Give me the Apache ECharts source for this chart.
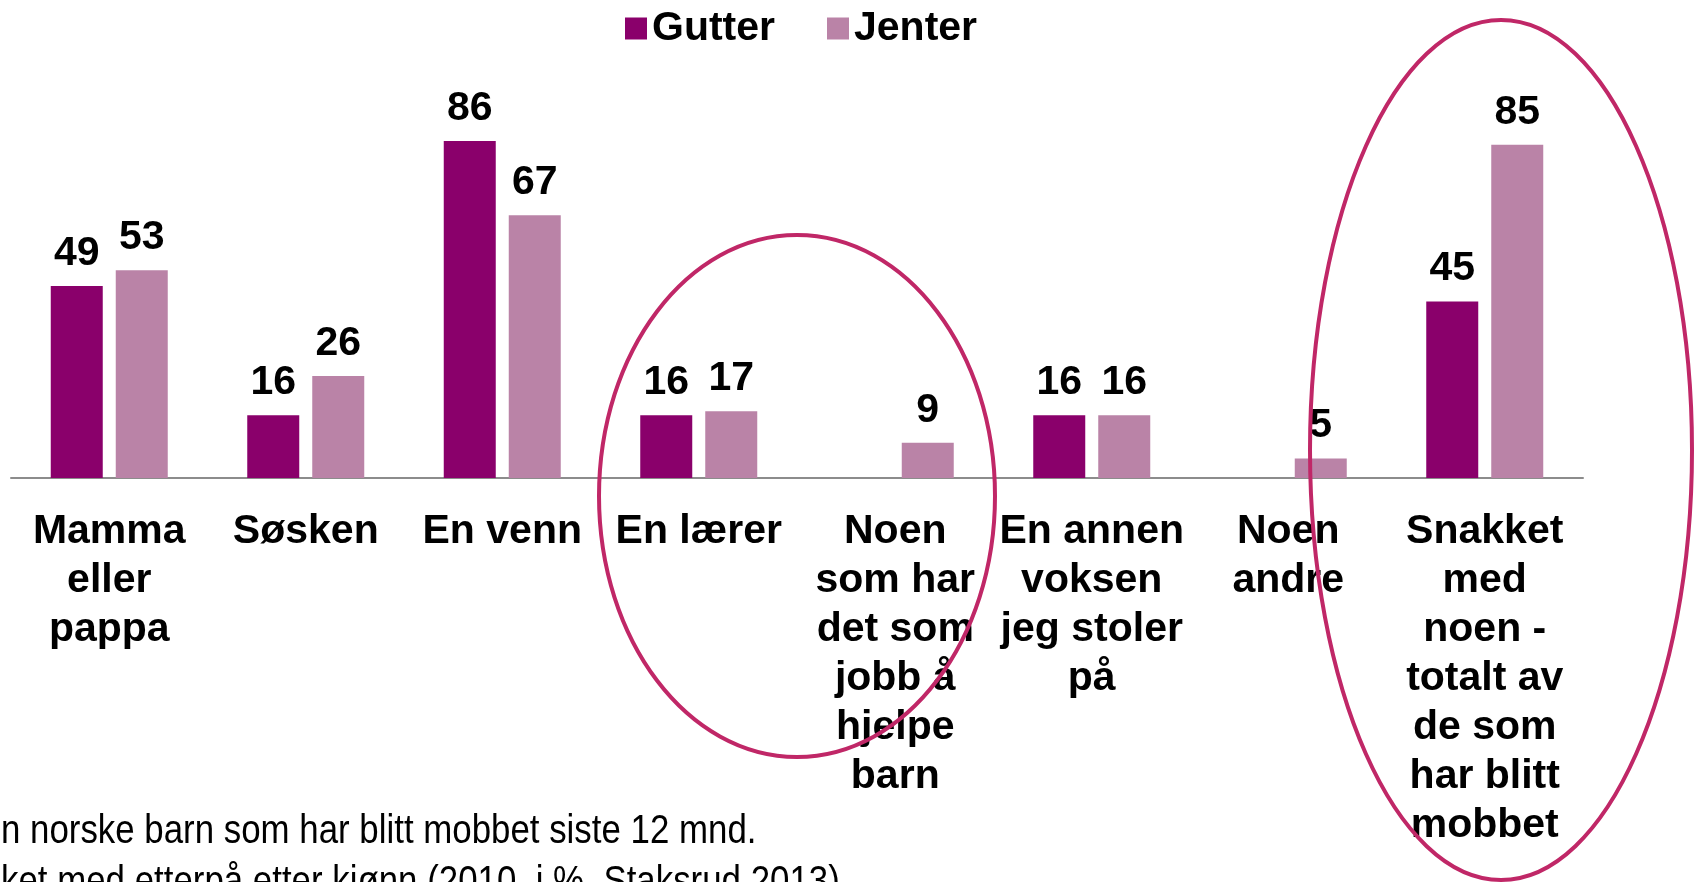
<!DOCTYPE html>
<html>
<head>
<meta charset="utf-8">
<script src="https://cdn.jsdelivr.net/npm/echarts@6/dist/echarts.min.js"></script>
<style>
  html, body { margin: 0; padding: 0; background: #fff; }
  #chart { width: 1694px; height: 882px; }
</style>
</head>
<body>
<div id="chart"></div>
<script>
const categories = [
  'Mamma\neller\npappa',
  'Søsken',
  'En venn',
  'En lærer',
  'Noen\nsom har\ndet som\njobb å\nhjelpe\nbarn',
  'En annen\nvoksen\njeg stoler\npå',
  'Noen\nandre',
  'Snakket\nmed\nnoen -\ntotalt av\nde som\nhar blitt\nmobbet'
]
const gutter = [49, 16, 86, 16, null, 16, null, 45]
const jenter = [53, 26, 67, 17, 9, 16, 5, 85]
const footnotes = [
  'n norske barn som har blitt mobbet siste 12 mnd.',
  'ket med etterpå etter kjønn (2010, i %, Staksrud 2013)'
]

const FONT = '"Liberation Sans", Arial, sans-serif'
const ringColor = '#C02767'

const chart = echarts.init(document.getElementById('chart'))

function barSeries(name, data, color) {
  return {
    name: name,
    type: 'bar',
    data: data,
    barWidth: 52,
    barGap: '25%',
    itemStyle: { color: color },
    label: {
      show: true,
      position: 'top',
      distance: 12,
      color: '#000',
      fontFamily: FONT,
      fontWeight: 'bold',
      fontSize: 41
    }
  }
}

// footnote lines, squeezed like the condensed font in the original
function footnote(text, y) {
  return {
    type: 'text', z: 100, x: 1, y: y, scaleX: 0.85,
    style: {
      text: text,
      fill: '#000',
      font: '41px "Liberation Sans", Arial, sans-serif',
      verticalAlign: 'top'
    }
  }
}

const option = {
  animation: false,
  textStyle: { fontFamily: FONT },
  legend: {
    top: 3,
    left: 620,
    itemWidth: 22,
    itemHeight: 22,
    itemGap: 52,
    icon: 'rect',
    textStyle: { fontFamily: FONT, fontWeight: 'bold', fontSize: 41, color: '#000' },
    data: ['Gutter', 'Jenter']
  },
  grid: { left: 11, right: 111, top: 86, bottom: 404, containLabel: false },
  xAxis: {
    type: 'category',
    data: categories,
    axisLine: { lineStyle: { color: '#8c8c8c', width: 2 } },
    axisTick: { show: false },
    axisLabel: {
      interval: 0,
      margin: 29,
      color: '#000',
      fontFamily: FONT,
      fontWeight: 'bold',
      fontSize: 41,
      lineHeight: 49
    }
  },
  yAxis: { type: 'value', min: 0, max: 100, show: false },
  series: [
    barSeries('Gutter', gutter, '#8A006B'),
    barSeries('Jenter', jenter, '#BA83A7')
  ],
  graphic: [
    {
      type: 'ellipse', z: 100,
      shape: { cx: 797, cy: 496, rx: 198, ry: 261 },
      style: { fill: 'none', stroke: ringColor, lineWidth: 4 }
    },
    {
      type: 'ellipse', z: 100,
      shape: { cx: 1501, cy: 450, rx: 191, ry: 430 },
      style: { fill: 'none', stroke: ringColor, lineWidth: 4 }
    },
    footnote(footnotes[0], 811),
    footnote(footnotes[1], 862)
  ]
}

chart.setOption(option)
</script>
</body>
</html>
